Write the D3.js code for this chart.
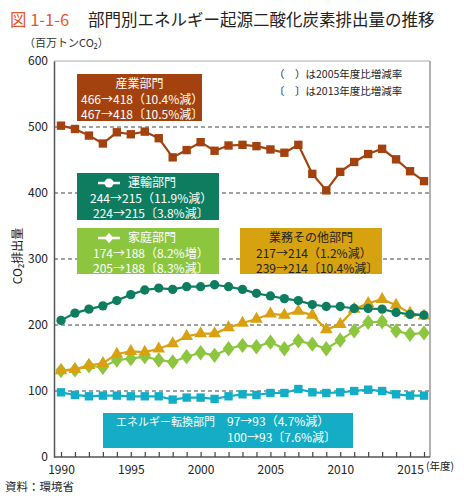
<!DOCTYPE html>
<html><head><meta charset="utf-8">
<script src="https://cdn.jsdelivr.net/npm/d3@7"></script>
<style>
body{margin:0;background:#fff;}
svg text{font-family:"Noto Sans CJK JP","Noto Sans",sans-serif;}
</style></head>
<body><svg id="c" width="464" height="500"></svg>
<script>
const years = d3.range(1990, 2017);
const industry = [502,497,487,475,492,489,493,483,454,465,477,464,472,473,471,466,461,473,429,404,432,447,459,467,451,433,418];
const transport = [207,218,224,229,237,246,253,256,254,258,258,261,258,254,248,244,240,237,231,228,228,225,225,224,219,216,215];
const commercial = [131,133,139,142,156,160,159,164,172,183,187,187,196,203,209,217,215,221,215,193,201,224,233,239,230,218,214];
const residential = [131,132,138,136,147,149,152,147,144,152,158,154,164,169,167,174,164,176,171,164,177,191,204,205,191,186,188];
const energy = [98,94,92,93,93,92,92,92,87,90,90,88,92,95,94,97,97,103,98,97,98,100,102,100,95,93,93];
const yTicks = [0,100,200,300,400,500,600];
const xLabels = [1990,1995,2000,2005,2010,2015];

const svg = d3.select("#c");
const x = d3.scaleLinear().domain([1990, 2016]).range([61, 424]);
const y = d3.scaleLinear().domain([0, 600]).range([457, 61]);
const L = 54, R = 430;

// title
const t = svg.append("text").attr("x", 10).attr("y", 26).attr("font-size", 16.5);
t.append("tspan").attr("fill", "#E5562A").text("図 1-1-6");
t.append("tspan").attr("x", 88).attr("fill", "#222").text("部門別エネルギー起源二酸化炭素排出量の推移");
svg.append("text").attr("x", 24).attr("y", 47).attr("font-size", 11).attr("fill", "#333").text("（百万トンCO₂）");

// frame
svg.append("line").attr("x1", L).attr("x2", R).attr("y1", 61).attr("y2", 61).attr("stroke", "#aaa");
svg.append("line").attr("x1", R).attr("x2", R).attr("y1", 61).attr("y2", 457).attr("stroke", "#999").attr("stroke-width", 1.5);

// gridlines
svg.append("g").selectAll("line").data(yTicks.filter(v => v > 0 && v < 600)).join("line")
  .attr("x1", L).attr("x2", R).attr("y1", d => y(d)).attr("y2", d => y(d))
  .attr("stroke", "#444").attr("stroke-dasharray", "4,3").attr("stroke-width", 1.2);

// y axis
const ya = svg.append("g").attr("transform", `translate(${L},0)`)
  .call(d3.axisLeft(y).tickValues(yTicks).tickSize(0).tickPadding(6));
ya.select(".domain").attr("stroke", "#555").attr("stroke-width", 1.5);
ya.selectAll("text").attr("font-size", 12).attr("fill", "#222").attr("font-family", "'Noto Sans CJK JP',sans-serif");

// x axis
const xa = svg.append("g").attr("transform", `translate(0,457)`)
  .call(d3.axisBottom(x).tickValues(years).tickSize(-5).tickPadding(8)
    .tickFormat(d => xLabels.includes(d) ? d : ""));
xa.select(".domain").attr("d", `M${L},0H${R}`).attr("stroke", "#555").attr("stroke-width", 1.5);
xa.selectAll(".tick line").attr("stroke", "#444").attr("stroke-width", 1.2);
xa.selectAll("text").attr("font-size", 12).attr("fill", "#222").attr("font-family", "'Noto Sans CJK JP',sans-serif");
svg.append("text").attr("x", 426).attr("y", 470).attr("font-size", 10.5).attr("fill", "#222").text("(年度)");

// y title
svg.append("text").attr("transform", "translate(22,256) rotate(-90)").attr("text-anchor", "middle")
  .attr("font-size", 12).attr("fill", "#222").text("CO₂排出量");

svg.append("text").attr("x", 5).attr("y", 491).attr("font-size", 11.5).attr("fill", "#222").text("資料：環境省");

// legend note
svg.append("text").attr("x", 274).attr("y", 78).attr("font-size", 10.5).attr("fill", "#222").text("（　）は2005年度比増減率");
svg.append("text").attr("x", 274).attr("y", 95).attr("font-size", 10.5).attr("fill", "#222").text("〔　〕は2013年度比増減率");

// boxes
function box(x0, y0, w, h, fill, tc, lines, icon) {
  svg.append("rect").attr("x", x0).attr("y", y0).attr("width", w).attr("height", h).attr("fill", fill);
  lines.forEach((ln, i) => {
    svg.append("text").attr("x", ln.x).attr("y", y0 + 14 + i * 15.5).attr("font-size", 12)
      .attr("fill", tc).attr("text-anchor", ln.a || "start").text(ln.s);
  });
  if (icon) {
    const iy = y0 + 10;
    svg.append("line").attr("x1", icon.x).attr("x2", icon.x + 22).attr("y1", iy).attr("y2", iy).attr("stroke", "#fff").attr("stroke-width", 2.5);
    if (icon.t === "c") svg.append("circle").attr("cx", icon.x + 11).attr("cy", iy).attr("r", 4.5).attr("fill", "#fff");
    else svg.append("path").attr("d", d3.symbol(d3.symbolDiamond, 40)()).attr("transform", `translate(${icon.x + 11},${iy}) scale(1.3,0.9)`).attr("fill", "#fff");
  }
}
box(77, 74, 125, 47, "#A3420E", "#fff", [
  {x: 139.5, a: "middle", s: "産業部門"}, {x: 81, s: "466→418（10.4%減）"}, {x: 81, s: "467→418〔10.5%減〕"}]);
box(77, 173, 142, 47, "#0E7D5F", "#fff", [
  {x: 128, s: "運輸部門"}, {x: 90, s: "244→215（11.9%減）"}, {x: 93, s: "224→215〔3.8%減〕"}], {x: 98, t: "c"});
box(77, 228, 142, 46, "#8CC63F", "#fff", [
  {x: 128, s: "家庭部門"}, {x: 93, s: "174→188（8.2%増）"}, {x: 93, s: "205→188〔8.3%減〕"}], {x: 98, t: "d"});
box(240, 228, 142, 46, "#D6A20F", "#222", [
  {x: 311, a: "middle", s: "業務その他部門"}, {x: 256, s: "217→214（1.2%減）"}, {x: 256, s: "239→214〔10.4%減〕"}]);
svg.append("rect").attr("x", 103).attr("y", 413).attr("width", 250).attr("height", 35).attr("fill", "#14ADC5");
svg.append("text").attr("x", 116).attr("y", 426).attr("font-size", 11).attr("fill", "#fff").text("エネルギー転換部門");
svg.append("text").attr("x", 227).attr("y", 426).attr("font-size", 12).attr("fill", "#fff").text("97→93（4.7%減）");
svg.append("text").attr("x", 227).attr("y", 442).attr("font-size", 12).attr("fill", "#fff").text("100→93〔7.6%減〕");

// series
const series = [
  {v: energy, c: "#12ADC6", sym: d3.symbolSquare, size: 70},
  {v: residential, c: "#8CC63F", sym: d3.symbolDiamond, size: 75},
  {v: commercial, c: "#D9A012", sym: d3.symbolTriangle, size: 70},
  {v: transport, c: "#0E7D5F", sym: d3.symbolCircle, size: 68},
  {v: industry, c: "#A3420E", sym: d3.symbolSquare, size: 70}
];
const line = d3.line().x((d, i) => x(years[i])).y(d => y(d));
series.forEach(s => {
  const g = svg.append("g");
  g.append("path").attr("d", line(s.v)).attr("fill", "none").attr("stroke", s.c).attr("stroke-width", 2.2);
  g.selectAll("path.m").data(s.v).join("path").attr("class", "m")
    .attr("d", d3.symbol(s.sym, s.size)())
    .attr("transform", (d, i) => `translate(${x(years[i])},${y(d)})` + (s.sym === d3.symbolDiamond ? " scale(1.25,0.95)" : ""))
    .attr("fill", s.c);
});
</script></body></html>
